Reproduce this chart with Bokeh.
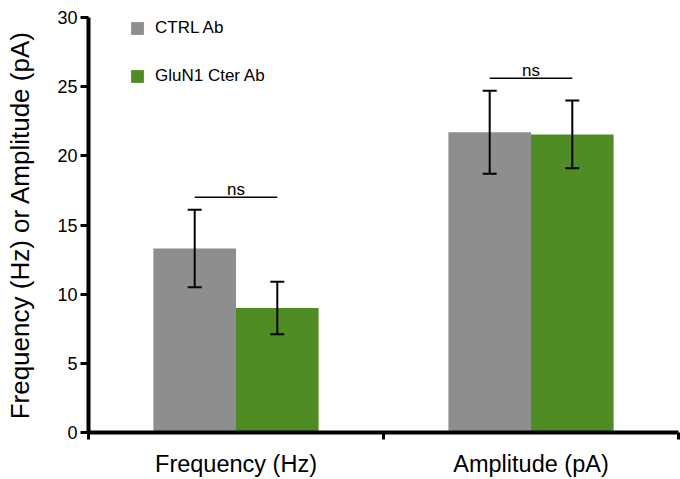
import numpy as np
from bokeh.plotting import figure
from bokeh.models import (ColumnDataSource, Range1d, FixedTicker, Whisker, TeeHead,
                          Legend, LegendItem)
from bokeh.core.properties import value
from bokeh.embed import file_html
from bokeh.resources import INLINE

# ---- data ----
categories = ["Frequency (Hz)", "Amplitude (pA)"]
ctrl_mean = [13.3, 21.7]
ctrl_sem = [2.8, 3.0]
glun_mean = [9.0, 21.55]
glun_sem = [1.9, 2.45]
ns_level = [17.0, 25.6]
ns_label = ["ns", "ns"]
series_names = ["CTRL Ab", "GluN1 Cter Ab"]
y_ticks = [0, 5, 10, 15, 20, 25, 30]
y_title = "Frequency (Hz) or Amplitude (pA)"

GRAY = "#8e8e8e"
GREEN = "#4f8c24"
FONT = "Liberation Sans"
BAR_W = 0.28

idx = np.arange(len(categories)) + 0.5
src = ColumnDataSource(dict(
    xc=idx, x_ctrl=idx - BAR_W / 2, x_glun=idx + BAR_W / 2,
    ctrl=ctrl_mean, glun=glun_mean,
    ctrl_up=np.array(ctrl_mean) + np.array(ctrl_sem),
    ctrl_lo=np.array(ctrl_mean) - np.array(ctrl_sem),
    glun_up=np.array(glun_mean) + np.array(glun_sem),
    glun_lo=np.array(glun_mean) - np.array(glun_sem),
    ns_y=ns_level, ns=ns_label,
))

p = figure(width=680, height=479, output_backend="svg", toolbar_location=None,
           x_range=Range1d(0, len(categories)), y_range=Range1d(0, 30),
           min_border_left=88, min_border_right=2, min_border_top=17, min_border_bottom=46)
p.outline_line_color = None
p.grid.visible = False
p.background_fill_color = "white"
p.border_fill_color = "white"

r_ctrl = p.vbar(x="x_ctrl", top="ctrl", width=BAR_W, source=src, fill_color=GRAY, line_color=None)
r_glun = p.vbar(x="x_glun", top="glun", width=BAR_W, source=src, fill_color=GREEN, line_color=None)

for base, up, lo in [("x_ctrl", "ctrl_up", "ctrl_lo"), ("x_glun", "glun_up", "glun_lo")]:
    w = Whisker(source=src, base=base, upper=up, lower=lo, line_color="black", line_width=2,
                level="overlay",
                upper_head=TeeHead(size=14, line_width=2, line_color="black"),
                lower_head=TeeHead(size=14, line_width=2, line_color="black"))
    p.add_layout(w)

p.segment(x0="x_ctrl", x1="x_glun", y0="ns_y", y1="ns_y", source=src, line_color="black", line_width=1.5)
p.text(x="xc", y="ns_y", text="ns", source=src, text_align="center", text_baseline="alphabetic",
       y_offset=-8, text_font=value(FONT), text_font_size="17px", text_color="black")

# axes
xa = p.xaxis[0]
xa.ticker = FixedTicker(ticks=list(idx), minor_ticks=list(range(len(categories) + 1)))
xa.major_label_overrides = {float(v): c for v, c in zip(idx, categories)}
xa.major_tick_out = 0
xa.major_tick_in = 0
xa.minor_tick_out = 7
xa.minor_tick_in = 0
xa.minor_tick_line_width = 3
xa.minor_tick_line_color = "black"
xa.axis_line_width = 4
xa.axis_line_color = "black"
xa.major_label_text_font = FONT
xa.major_label_text_font_size = "23.5px"
xa.major_label_text_color = "black"
xa.major_label_standoff = 11

ya = p.yaxis[0]
ya.ticker = FixedTicker(ticks=y_ticks, minor_ticks=[])
ya.major_tick_out = 8
ya.major_tick_in = 0
ya.major_tick_line_width = 3
ya.major_tick_line_color = "black"
ya.axis_line_width = 4
ya.axis_line_color = "black"
ya.major_label_text_font = FONT
ya.major_label_text_font_size = "18px"
ya.major_label_text_color = "black"
ya.major_label_standoff = 3
ya.axis_label = y_title
ya.axis_label_text_font = FONT
ya.axis_label_text_font_size = "26px"
ya.axis_label_text_font_style = "normal"
ya.axis_label_text_color = "black"
ya.axis_label_standoff = 19

legend = Legend(items=[LegendItem(label=series_names[0], renderers=[r_ctrl]),
                       LegendItem(label=series_names[1], renderers=[r_glun])],
                location=(41, 345), orientation="vertical",
                glyph_width=16, glyph_height=16, label_height=22, label_standoff=10,
                spacing=26, padding=2, margin=0, border_line_color=None,
                background_fill_alpha=0,
                label_text_font=FONT, label_text_font_size="17px", label_text_color="black")
p.add_layout(legend)

open("out.html", "w").write(file_html(p, INLINE))
